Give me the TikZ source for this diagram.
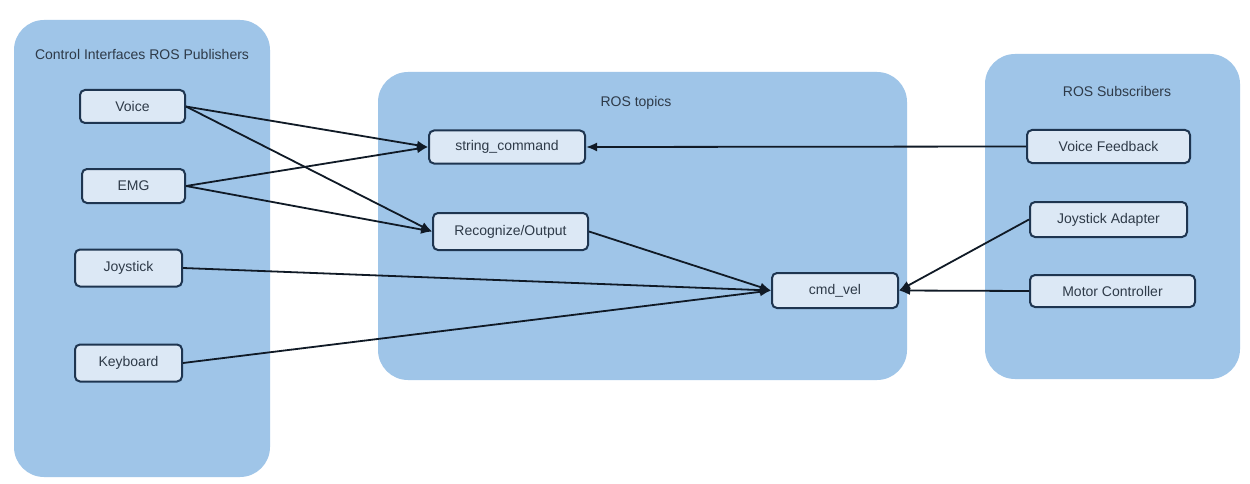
\documentclass[tikz,border=0pt]{standalone}
\usepackage{fontspec}
\setmainfont{Liberation Sans}
\usetikzlibrary{arrows.meta}
\definecolor{contfill}{HTML}{9FC5E8}
\definecolor{nodefill}{HTML}{DCE8F5}
\definecolor{nodeline}{HTML}{1E3550}
\definecolor{txt}{HTML}{2E3A48}
\definecolor{arr}{HTML}{101A26}
\tikzset{
  container/.style={fill=contfill, draw=none, rounded corners=30pt},
  title/.style={text=txt, font=\fontsize{14}{16}\selectfont, inner sep=0pt},
  box/.style={draw=nodeline, fill=nodefill, line width=2pt, rounded corners=5pt,
    text=txt, font=\fontsize{14}{16}\selectfont, inner sep=0pt, anchor=center},
  conn/.style={draw=arr, line width=1.8pt, -{Latex[length=11pt,width=9pt]}}
}
\begin{document}
\begin{tikzpicture}[x=1pt,y=-1pt]
\useasboundingbox (0,0) rectangle (1250,484);
\fill[white] (0,0) rectangle (1250,484);
% containers
\path[container] (14,20) rectangle (270,477);
\path[container] (378,72) rectangle (907,380);
\path[container] (985,54) rectangle (1240,379);
% titles
\node[title] (t1) at (142,54) {Control Interfaces ROS Publishers};
\node[title] (t2) at (636,103) {ROS topics};
\node[title] (t3) at (1117,91) {ROS Subscribers};
% left nodes
\node[box, minimum width=105pt, minimum height=33pt] (voice) at (132.5,106.5) {Voice};
\node[box, minimum width=103pt, minimum height=34pt] (emg) at (133.5,186) {EMG};
\node[box, minimum width=107pt, minimum height=37pt] (joy) at (128.5,268) {Joystick};
\node[box, minimum width=107pt, minimum height=37pt] (kbd) at (128.5,363) {Keyboard};
% centre nodes
\node[box, minimum width=156pt, minimum height=33pt] (sc) at (507,147) {string\_command};
\node[box, minimum width=155pt, minimum height=37pt] (ro) at (510.5,231.5) {Recognize/Output};
\node[box, minimum width=126pt, minimum height=35pt] (cmd) at (835,290.5) {cmd\_vel};
% right nodes
\node[box, minimum width=163pt, minimum height=33pt] (vf) at (1108.5,146.5) {Voice Feedback};
\node[box, minimum width=157pt, minimum height=35pt] (ja) at (1108.5,219.5) {Joystick Adapter};
\node[box, minimum width=165pt, minimum height=32pt] (mc) at (1112.5,291) {Motor Controller};
% connectors
\draw[conn] (voice.east) -- (sc.west);
\draw[conn] (voice.east) -- (ro.west);
\draw[conn] (emg.east) -- (sc.west);
\draw[conn] (emg.east) -- (ro.west);
\draw[conn] (joy.east) -- (cmd.west);
\draw[conn] (kbd.east) -- (cmd.west);
\draw[conn] (ro.east) -- (cmd.west);
\draw[conn] (vf.west) -- (sc.east);
\draw[conn] (ja.west) -- (cmd.east);
\draw[conn] (mc.west) -- (cmd.east);
\end{tikzpicture}
\end{document}
